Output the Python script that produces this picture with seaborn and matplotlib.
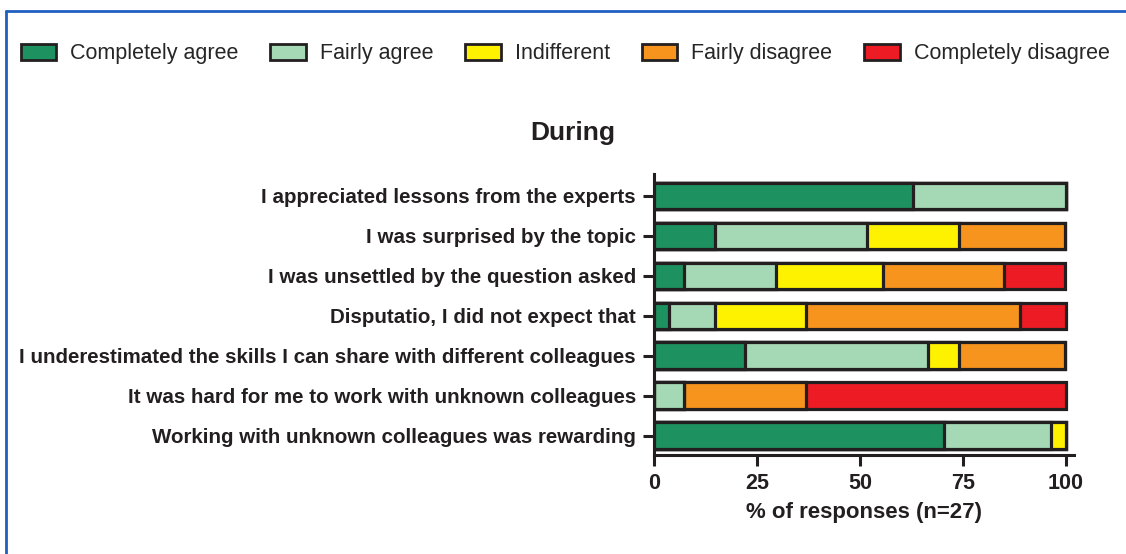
import numpy as np
import pandas as pd
import seaborn as sns
import matplotlib.pyplot as plt
from matplotlib.patches import Patch
from matplotlib.lines import Line2D

sns.set_style("ticks")
plt.rcParams['font.family'] = ['Liberation Sans', 'DejaVu Sans']

# statements (top to bottom)
statements = [
    "I appreciated lessons from the experts",
    "I was surprised by the topic",
    "I was unsettled by the question asked",
    "Disputatio, I did not expect that",
    "I underestimated the skills I can share with different colleagues",
    "It was hard for me to work with unknown colleagues",
    "Working with unknown colleagues was rewarding",
]
categories = ["Completely agree", "Fairly agree", "Indifferent",
              "Fairly disagree", "Completely disagree"]
colors = ["#1e9160", "#a5d8b4", "#fff200", "#f7941d", "#ed1c24"]

# % of responses (n=27)
completely_agree = [63.0, 14.8, 7.4, 3.7, 22.2, 0.0, 70.4]
fairly_agree = [37.0, 37.0, 22.2, 11.1, 44.4, 7.4, 25.9]
indifferent = [0.0, 22.2, 25.9, 22.2, 7.4, 0.0, 3.7]
fairly_disagree = [0.0, 25.9, 29.6, 51.9, 25.9, 29.6, 0.0]
completely_disagree = [0.0, 0.0, 14.8, 11.1, 0.0, 63.0, 0.0]

df = pd.DataFrame({
    "statement": statements,
    "Completely agree": completely_agree,
    "Fairly agree": fairly_agree,
    "Indifferent": indifferent,
    "Fairly disagree": fairly_disagree,
    "Completely disagree": completely_disagree,
})
cum = df[categories].cumsum(axis=1)
cum["statement"] = df["statement"]

W, H = 1126, 554
fig = plt.figure(figsize=(W / 100, H / 100), dpi=100)
ax = fig.add_axes([654 / W, 1 - 455 / H, 420 / W, (455 - 174) / H])

# draw cumulative bars from the widest to the narrowest
for cat, col in reversed(list(zip(categories, colors))):
    sns.barplot(data=cum, x=cat, y="statement", order=statements, color=col,
                edgecolor="#231f20", linewidth=2.3, width=0.67, ax=ax,
                saturation=1)

ax.set_xlim(0, 102)
ax.set_ylim(6.48, -0.55)
ax.set_xticks([0, 25, 50, 75, 100])
ax.set_ylabel("")
ax.set_xlabel("% of responses (n=27)", fontsize=16, fontweight="bold",
              labelpad=6, color="#231f20")
for lab in ax.get_xticklabels():
    lab.set_fontweight("bold")
    lab.set_fontsize(15.5)
    lab.set_color("#231f20")
for lab in ax.get_yticklabels():
    lab.set_fontweight("bold")
    lab.set_fontsize(14.8)
    lab.set_color("#231f20")
ax.tick_params(axis="both", length=8, width=2.2, color="#231f20", pad=5)
for s in ["top", "right"]:
    ax.spines[s].set_visible(False)
for s in ["left", "bottom"]:
    ax.spines[s].set_linewidth(2.2)
    ax.spines[s].set_color("#231f20")

fig.text(573 / W, 1 - 133 / H, "During", ha="center", va="center",
         fontsize=19, fontweight="bold", color="#231f20")

handles = [Patch(facecolor=c, edgecolor="#231f20", linewidth=2) for c in colors]
fig.legend(handles, categories, ncol=5, loc="lower left", mode="expand",
           bbox_to_anchor=(12 / W, 1 - 73 / H, 1106 / W, 30 / H),
           frameon=False, borderaxespad=0, fontsize=15.5, handlelength=1.65,
           handleheight=0.75, handletextpad=0.65)

# blue frame (top and left edges)
fig.add_artist(Line2D([6 / W, 1], [1 - 11 / H, 1 - 11 / H], color="#1f5fbf",
                      linewidth=2, transform=fig.transFigure))
fig.add_artist(Line2D([6 / W, 6 / W], [0, 1 - 11 / H], color="#1f5fbf",
                      linewidth=2, transform=fig.transFigure))

fig.savefig("out.png", dpi=100)
